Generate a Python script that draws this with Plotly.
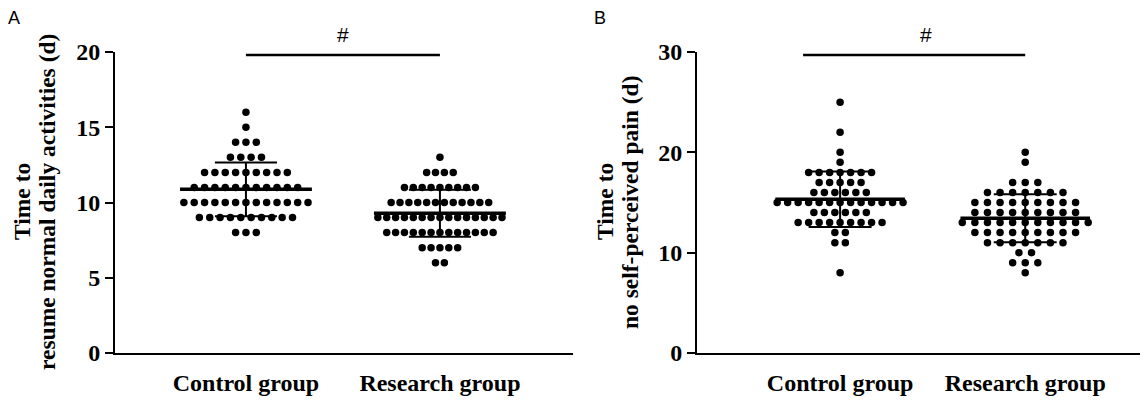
import numpy as np
import plotly.graph_objects as go

# ---------------- data ----------------
categories = ["Control group", "Research group"]

# Panel A: time to resume normal daily activities (d)
a_ctrl_vals = [16, 15, 14, 13, 12, 11, 10, 9, 8]
a_ctrl_counts = [1, 1, 3, 4, 9, 11, 13, 10, 3]
a_res_vals = [13, 12, 11, 10, 9, 8, 7, 6]
a_res_counts = [1, 4, 9, 12, 15, 13, 5, 2]

# Panel B: time to no self-perceived pain (d)
b_ctrl_vals = [25, 22, 20, 19, 18, 17, 16, 15, 14, 13, 12, 11, 8]
b_ctrl_counts = [1, 1, 1, 1, 7, 5, 6, 13, 6, 9, 2, 2, 1]
b_res_vals = [20, 19, 17, 16, 15, 14, 13, 12, 11, 10, 9, 8]
b_res_counts = [1, 1, 3, 7, 9, 9, 11, 9, 7, 2, 3, 1]

a_ticks = [0, 5, 10, 15, 20]
b_ticks = [0, 10, 20, 30]

a_title = ["Time to", "resume normal daily activities (d)"]
b_title = ["Time to", "no self-perceived pain (d)"]
sig_mark = "#"

SERIF = "Liberation Serif, Times New Roman, serif"
SANS = "Liberation Sans, Arial, sans-serif"


def swarm(pos, vals, counts, width):
    maxn = max(counts)
    sp = width / (maxn - 1)
    xs, ys = [], []
    for v, n in zip(vals, counts):
        for i in range(n):
            xs.append(pos + (i - (n - 1) / 2) * sp)
            ys.append(v)
    return xs, ys


def stats(vals, counts):
    arr = np.repeat(np.array(vals, float), counts)
    return arr.mean(), arr.std(ddof=1)


fig = go.Figure()

panels = [
    ("x", "y", [(a_ctrl_vals, a_ctrl_counts), (a_res_vals, a_res_counts)], 0.64, 0.34, 0.16),
    ("x2", "y2", [(b_ctrl_vals, b_ctrl_counts), (b_res_vals, b_res_counts)], 0.68, 0.35, 0.17),
]

for xa, ya, groups, w, mhw, chw in panels:
    for pos, (vals, counts) in enumerate(groups):
        xs, ys = swarm(pos, vals, counts, w)
        fig.add_trace(go.Scatter(x=xs, y=ys, mode="markers", xaxis=xa, yaxis=ya,
                                 marker=dict(size=7.5, color="black"),
                                 showlegend=False, hoverinfo="skip"))
        m, s = stats(vals, counts)
        fig.add_trace(go.Scatter(x=[pos, pos], y=[m - s, m + s], mode="lines",
                                 xaxis=xa, yaxis=ya, line=dict(color="black", width=2),
                                 showlegend=False, hoverinfo="skip"))
        for yv in (m - s, m + s):
            fig.add_trace(go.Scatter(x=[pos - chw, pos + chw], y=[yv, yv], mode="lines",
                                     xaxis=xa, yaxis=ya, line=dict(color="black", width=2),
                                     showlegend=False, hoverinfo="skip"))
        fig.add_trace(go.Scatter(x=[pos - mhw, pos + mhw], y=[m, m], mode="lines",
                                 xaxis=xa, yaxis=ya, line=dict(color="black", width=3.5),
                                 showlegend=False, hoverinfo="skip"))

W, H = 1146, 402
T, B = 52, 49
axis_common = dict(showgrid=False, zeroline=False, showline=True, linecolor="black",
                   linewidth=2)
tfont = dict(family=SERIF, size=24, color="black", weight="bold")

fig.update_layout(
    width=W, height=H,
    margin=dict(l=0, r=0, t=T, b=B),
    plot_bgcolor="white", paper_bgcolor="white",
    xaxis=dict(domain=[115 / W, 573 / W], range=[-0.675, 1.686],
               tickvals=[0, 1], ticktext=categories, ticks="", tickfont=tfont,
               ticklabelstandoff=7, anchor="y", **axis_common),
    yaxis=dict(domain=[0, 1], range=[0, 20], tickvals=a_ticks, ticks="outside",
               ticklen=8, tickwidth=2, tickcolor="black", tickfont=tfont,
               anchor="x", **axis_common),
    xaxis2=dict(domain=[697 / W, 1140 / W], range=[-0.773, 1.62],
                tickvals=[0, 1], ticktext=categories, ticks="", tickfont=tfont,
                ticklabelstandoff=7, anchor="y2", **axis_common),
    yaxis2=dict(domain=[0, 1], range=[0, 30], tickvals=b_ticks, ticks="outside",
                ticklen=8, tickwidth=2, tickcolor="black", tickfont=tfont,
                anchor="x2", **axis_common),
)

# significance bars
fig.add_shape(type="line", xref="x", yref="y", x0=0, x1=1, y0=19.8, y1=19.8,
              line=dict(color="black", width=2.5))
fig.add_shape(type="line", xref="x2", yref="y2", x0=-0.2, x1=1, y0=29.7, y1=29.7,
              line=dict(color="black", width=2.5))

PH = H - T - B


def py(fig_y):
    return (H - B - fig_y) / PH


ann = []
ann.append(dict(x=0.5, y=py(35), xref="x", yref="paper", text=sig_mark, showarrow=False,
                font=dict(family=SANS, size=21, color="black"), yanchor="middle"))
ann.append(dict(x=0.465, y=py(35), xref="x2", yref="paper", text=sig_mark, showarrow=False,
                font=dict(family=SANS, size=21, color="black"), yanchor="middle"))
# axis titles (two separate lines)
for xc, line in zip([22, 47], a_title):
    ann.append(dict(x=xc / W, y=py(202), xref="paper", yref="paper", text="<b>%s</b>" % line,
                    textangle=-90, showarrow=False, xanchor="center", yanchor="middle",
                    font=dict(family=SERIF, size=23.5, color="black")))
for xc, line in zip([605, 630], b_title):
    ann.append(dict(x=xc / W, y=py(202), xref="paper", yref="paper", text="<b>%s</b>" % line,
                    textangle=-90, showarrow=False, xanchor="center", yanchor="middle",
                    font=dict(family=SERIF, size=23.5, color="black")))
# panel letters
ann.append(dict(x=14 / W, y=py(18), xref="paper", yref="paper", text="A",
                showarrow=False, xanchor="center", yanchor="middle",
                font=dict(family=SANS, size=18, color="black")))
ann.append(dict(x=600 / W, y=py(18), xref="paper", yref="paper", text="B",
                showarrow=False, xanchor="center", yanchor="middle",
                font=dict(family=SANS, size=18, color="black")))
fig.update_layout(annotations=ann)

fig.write_html("out.html", config={"displayModeBar": False},
               post_script="document.body.style.margin='0';")
